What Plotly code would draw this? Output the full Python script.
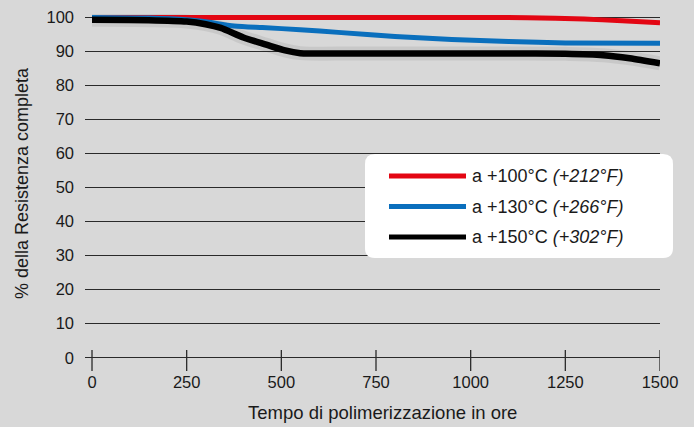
"""
Resistenza residua nel tempo a temperature diverse.
"""

import plotly.graph_objects as go

# --- dati ---
ore_100 = [0, 250, 500, 750, 1000, 1150, 1300, 1400, 1500]
res_100 = [100, 100, 100, 100, 100, 99.9, 99.5, 99.0, 98.4]

ore_130 = [0, 150, 250, 300, 375, 450, 550, 650, 800, 950, 1100, 1250, 1500]
res_130 = [100, 99.8, 99.3, 98.7, 97.5, 97.0, 96.4, 95.6, 94.4, 93.5, 92.9, 92.5, 92.4]

ore_150 = [0, 150, 250, 300, 340, 400, 460, 510, 550, 700, 900, 1100, 1250, 1350, 1420, 1500]
res_150 = [99.3, 99.2, 98.8, 98.0, 96.9, 94.1, 92.0, 90.3, 89.5, 89.4, 89.4, 89.4, 89.3, 88.9, 88.0, 86.5]

x_ticks = [0, 250, 500, 750, 1000, 1250, 1500]
y_ticks = [0, 10, 20, 30, 40, 50, 60, 70, 80, 90, 100]

serie = [
    ("a +100°C <i>(+212°F)</i>", ore_100, res_100, "#e30613", 5),
    ("a +130°C <i>(+266°F)</i>", ore_130, res_130, "#0a6fbd", 5),
    ("a +150°C <i>(+302°F)</i>", ore_150, res_150, "#000000", 6.5),
]

W, H = 694, 427
L, R, T, B = 85, 34, 14, 56
FONT = "Liberation Sans, Arial, Helvetica, sans-serif"
TXT = "#1a1a1a"


def px_x(px):
    return (px - L) / (W - L - R)


def px_y(py):
    return (H - B - py) / (H - T - B)


fig = go.Figure()

# tacche dell'asse x (attraversano la linea dello zero)
tx, ty = [], []
for v in x_ticks:
    tx += [v, v, None]
    ty += [-3.9, 2.3, None]
fig.add_trace(go.Scatter(x=tx, y=ty, mode="lines", line=dict(color="#2a2a2a", width=1.3),
                         hoverinfo="skip", showlegend=False))

# ombra leggera sotto la curva nera
fig.add_trace(go.Scatter(x=ore_150, y=res_150, mode="lines", line_shape="spline",
                         line=dict(color="rgba(0,0,0,0.07)", width=14),
                         hoverinfo="skip", showlegend=False))

for nome, xs, ys, col, w in serie:
    fig.add_trace(go.Scatter(x=xs, y=ys, mode="lines", name=nome, line_shape="spline",
                             line=dict(color=col, width=w, smoothing=0.7), showlegend=False))

# legenda disegnata a mano (riquadro bianco arrotondato)
x0, x1, y0, y1, r = 365, 673, 154, 258, 10
path = (f"M {x0 + r},{y0} L {x1 - r},{y0} Q {x1},{y0} {x1},{y0 + r} "
        f"L {x1},{y1 - r} Q {x1},{y1} {x1 - r},{y1} L {x0 + r},{y1} "
        f"Q {x0},{y1} {x0},{y1 - r} L {x0},{y0 + r} Q {x0},{y0} {x0 + r},{y0} Z")


# converto il path da pixel a coordinate paper
def conv_path(p):
    out = []
    for tok in p.split(" "):
        if "," in tok:
            a, b = tok.split(",")
            out.append(f"{px_x(float(a)):.5f},{px_y(float(b)):.5f}")
        else:
            out.append(tok)
    return " ".join(out)


fig.add_shape(type="path", path=conv_path(path), xref="paper", yref="paper",
              fillcolor="white", line=dict(width=0), layer="above")

for i, (nome, xs, ys, col, w) in enumerate(serie):
    yy = px_y(176 + i * 30.5)
    fig.add_shape(type="line", xref="paper", yref="paper", x0=px_x(389), x1=px_x(466),
                  y0=yy, y1=yy, line=dict(color=col, width=5), layer="above")
    fig.add_annotation(x=px_x(470), y=yy, xref="paper", yref="paper", text=nome,
                       showarrow=False, xanchor="left", yanchor="middle",
                       font=dict(family=FONT, size=18, color=TXT))

# titoli degli assi
fig.add_annotation(x=px_x(22), y=px_y(183), xref="paper", yref="paper",
                   text="% della Resistenza completa", textangle=-90, showarrow=False,
                   xanchor="center", yanchor="middle",
                   font=dict(family=FONT, size=18, color=TXT))
fig.add_annotation(x=px_x(382), y=px_y(412), xref="paper", yref="paper",
                   text="Tempo di polimerizzazione in ore", showarrow=False,
                   xanchor="center", yanchor="middle",
                   font=dict(family=FONT, size=18.5, color=TXT))

fig.update_layout(
    width=W, height=H,
    margin=dict(l=L, r=R, t=T, b=B),
    paper_bgcolor="#d8d8d8",
    plot_bgcolor="rgba(0,0,0,0)",
    font=dict(family=FONT, size=16.5, color=TXT),
    xaxis=dict(range=[-18.5, 1500], tickvals=x_ticks, showgrid=False, zeroline=False,
               showline=False, ticks="", ticklabelstandoff=-1, automargin=False),
    yaxis=dict(range=[-3.9, 101], tickvals=y_ticks, showgrid=True, gridcolor="#2a2a2a",
               gridwidth=1.3, zeroline=False, showline=False, ticks="", ticklabelstandoff=10,
               automargin=False),
)

# tolgo il margine di default del body, così la figura parte dall'angolo
fig.write_html("out.html", config={"displayModeBar": False},
               post_script="document.body.style.margin='0';")
